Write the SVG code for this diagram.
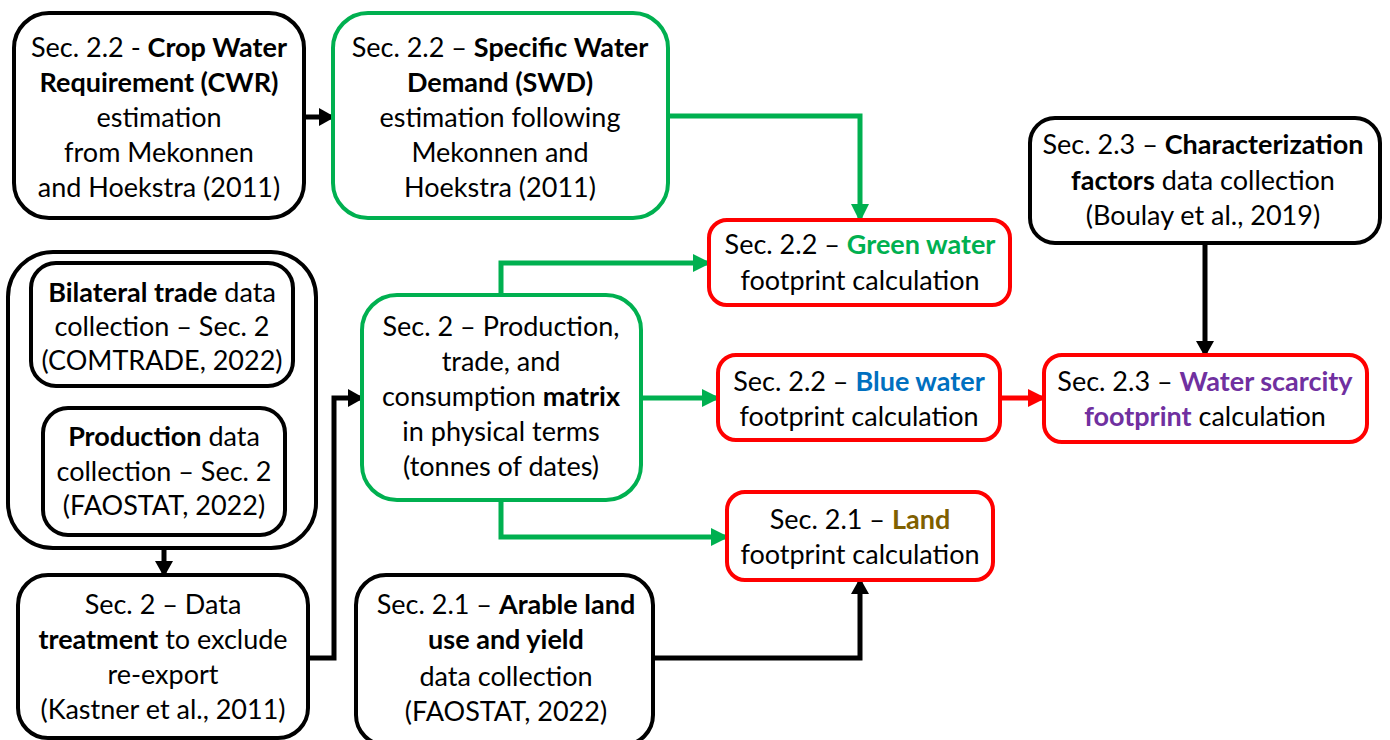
<svg xmlns="http://www.w3.org/2000/svg" width="1390" height="740" viewBox="0 0 1390 740">
<style>
text{font-family:Lato,"Liberation Sans",sans-serif;font-size:27px;fill:#000;text-anchor:middle}
.b{font-weight:bold}
.box{fill:#fff;stroke-width:4}
.k{stroke:#000}
.g{stroke:#00B050}
.r{stroke:#FF0000}
.c{fill:none;stroke-width:5}
</style>
<defs>
<marker id="ak" markerUnits="userSpaceOnUse" markerWidth="16" markerHeight="18" refX="14" refY="9" orient="auto"><path d="M0,0 L16,9 L0,18 Z" fill="#000"/></marker>
<marker id="ag" markerUnits="userSpaceOnUse" markerWidth="18" markerHeight="18" refX="16" refY="9" orient="auto"><path d="M0,0 L18,9 L0,18 Z" fill="#00B050"/></marker>
<marker id="ar" markerUnits="userSpaceOnUse" markerWidth="18" markerHeight="18" refX="16" refY="9" orient="auto"><path d="M0,0 L18,9 L0,18 Z" fill="#FF0000"/></marker>
</defs>
<g id="connectors">
<path class="c" stroke="#000" d="M304,117 H333" marker-end="url(#ak)"/>
<path class="c" stroke="#00B050" d="M668,116 H860 V220" marker-end="url(#ag)"/>
<path class="c" stroke="#000" d="M1205,243 V355" marker-end="url(#ak)"/>
<path class="c" stroke="#000" d="M164,548 V575" marker-end="url(#ak)"/>
<path class="c" stroke="#000" d="M308,658 H334 V398 H362" marker-end="url(#ak)"/>
<path class="c" stroke="#000" d="M653,658 H860 V580" marker-end="url(#ak)"/>
<path class="c" stroke="#00B050" d="M501,295 V263 H709" marker-end="url(#ag)"/>
<path class="c" stroke="#00B050" d="M641,398 H718" marker-end="url(#ag)"/>
<path class="c" stroke="#00B050" d="M501,500 V537 H727" marker-end="url(#ag)"/>
<path class="c" stroke="#FF0000" d="M1000,398 H1044" marker-end="url(#ar)"/>
</g>
<g id="cwr">
<rect class="box k" x="14" y="13" width="290" height="205" rx="35"/>
<text x="159" y="57">Sec. 2.2 - <tspan class="b">Crop Water</tspan></text>
<text x="159" y="92" class="b">Requirement (CWR)</text>
<text x="159" y="127">estimation</text>
<text x="159" y="162">from Mekonnen</text>
<text x="159" y="197">and Hoekstra (2011)</text>
</g>
<g id="swd">
<rect class="box g" x="333" y="13" width="335" height="205" rx="35"/>
<text x="500" y="57">Sec. 2.2 – <tspan class="b">Specific Water</tspan></text>
<text x="500" y="92" class="b">Demand (SWD)</text>
<text x="500" y="127">estimation following</text>
<text x="500" y="162">Mekonnen and</text>
<text x="500" y="197">Hoekstra (2011)</text>
</g>
<g id="cf">
<rect class="box k" x="1030" y="118" width="350" height="125" rx="25"/>
<text x="1203" y="154">Sec. 2.3 – <tspan class="b">Characterization</tspan></text>
<text x="1203" y="190"><tspan class="b">factors</tspan> data collection</text>
<text x="1203" y="225">(Boulay et al., 2019)</text>
</g>
<g id="green">
<rect class="box r" x="709" y="220" width="301" height="85" rx="18"/>
<text x="860" y="254">Sec. 2.2 – <tspan class="b" fill="#00B050">Green water</tspan></text>
<text x="860" y="290">footprint calculation</text>
</g>
<g id="blue">
<rect class="box r" x="718" y="355" width="282" height="85" rx="18"/>
<text x="859" y="391">Sec. 2.2 – <tspan class="b" fill="#0070C0">Blue water</tspan></text>
<text x="859" y="426">footprint calculation</text>
</g>
<g id="scarcity">
<rect class="box r" x="1044" y="355" width="323" height="87" rx="18"/>
<text x="1205" y="391">Sec. 2.3 – <tspan class="b" fill="#7030A0">Water scarcity</tspan></text>
<text x="1205" y="426"><tspan class="b" fill="#7030A0">footprint</tspan> calculation</text>
</g>
<g id="land">
<rect class="box r" x="727" y="492" width="266" height="88" rx="18"/>
<text x="860" y="529">Sec. 2.1 – <tspan class="b" fill="#7F6000">Land</tspan></text>
<text x="860" y="564">footprint calculation</text>
</g>
<g id="matrix">
<rect class="box g" x="362" y="295" width="279" height="205" rx="35"/>
<text x="501" y="336">Sec. 2 – Production,</text>
<text x="501" y="371">trade, and</text>
<text x="501" y="406">consumption <tspan class="b">matrix</tspan></text>
<text x="501" y="441">in physical terms</text>
<text x="501" y="476">(tonnes of dates)</text>
</g>
<g id="data">
<rect class="box k" x="8" y="252" width="308" height="296" rx="45"/>
<g id="bilateral">
<rect class="box k" x="31" y="263" width="262" height="123" rx="25"/>
<text x="162" y="302"><tspan class="b">Bilateral trade</tspan> data</text>
<text x="162" y="336">collection – Sec. 2</text>
<text x="162" y="370">(COMTRADE, 2022)</text>
</g>
<g id="production">
<rect class="box k" x="43" y="408" width="242" height="127" rx="25"/>
<text x="164" y="446"><tspan class="b">Production</tspan> data</text>
<text x="164" y="481">collection – Sec. 2</text>
<text x="164" y="515">(FAOSTAT, 2022)</text>
</g>
</g>
<g id="treatment">
<rect class="box k" x="18" y="575" width="290" height="163" rx="30"/>
<text x="163" y="614">Sec. 2 – Data</text>
<text x="163" y="649"><tspan class="b">treatment</tspan> to exclude</text>
<text x="163" y="684">re-export</text>
<text x="163" y="719">(Kastner et al., 2011)</text>
</g>
<g id="arable">
<rect class="box k" x="356" y="575" width="297" height="170" rx="30"/>
<text x="506" y="614">Sec. 2.1 – <tspan class="b">Arable land</tspan></text>
<text x="506" y="649" class="b">use and yield</text>
<text x="506" y="686">data collection</text>
<text x="506" y="721">(FAOSTAT, 2022)</text>
</g>
</svg>
